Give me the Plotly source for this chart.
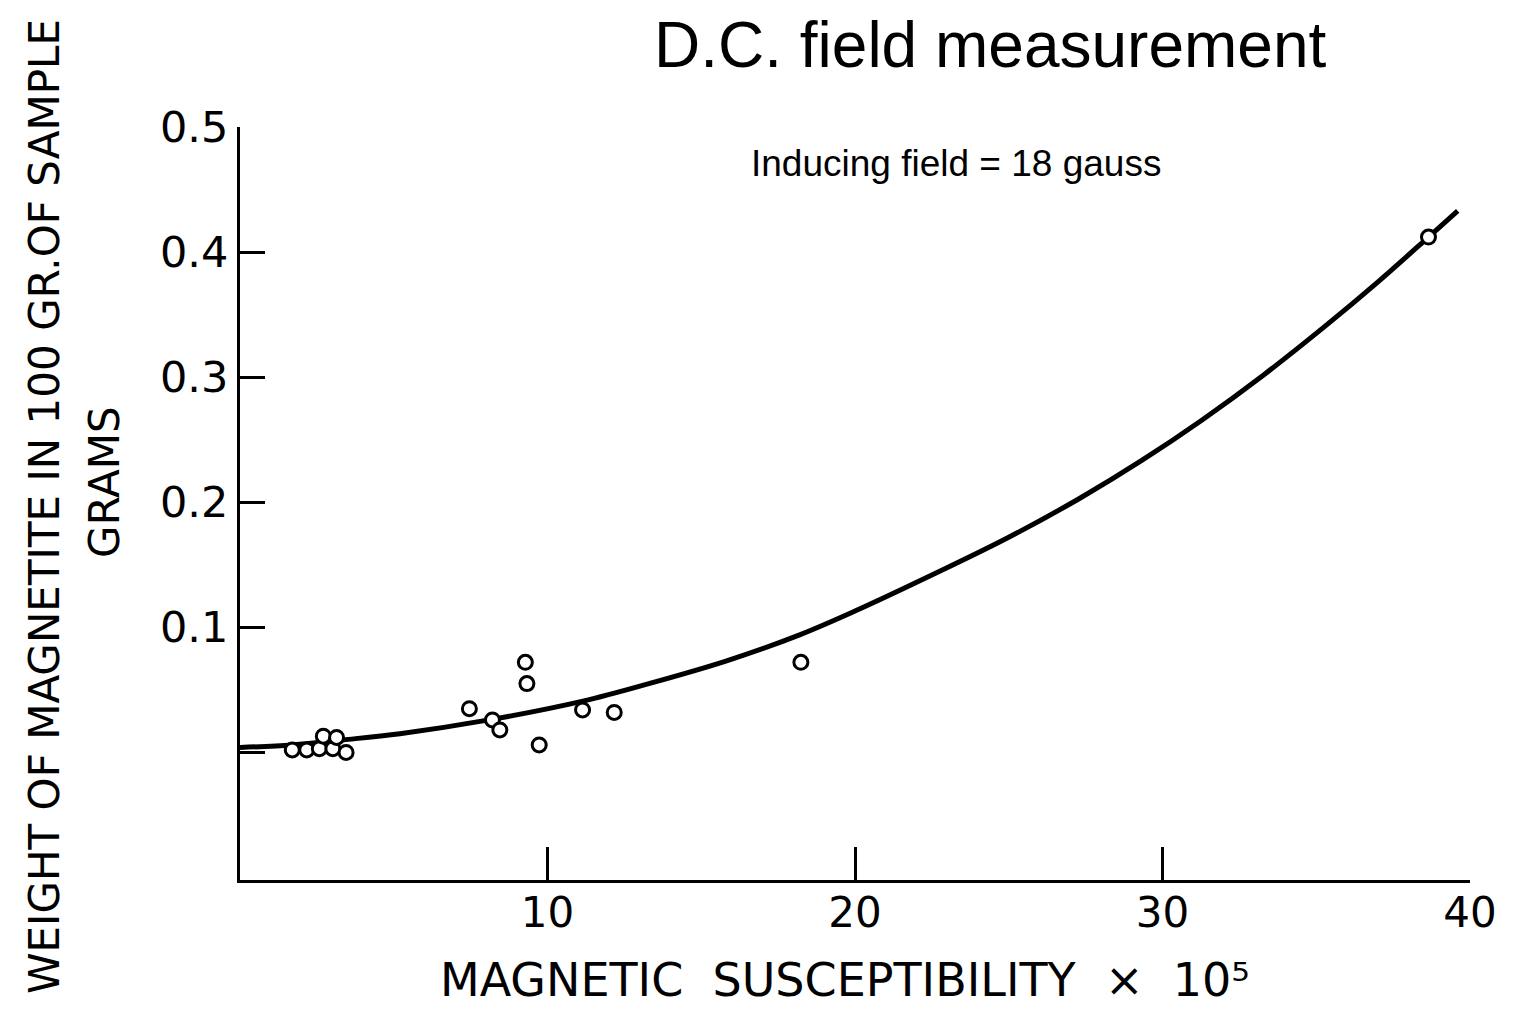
import plotly.graph_objects as go

# Measured samples (magnetic susceptibility x 10^5, grams of magnetite per 100 g)
sample_x = [1.70, 2.17, 2.58, 2.71, 3.02, 3.14, 3.45, 7.46, 8.21, 8.45, 9.28, 9.33, 9.73, 11.14, 12.17, 18.24, 38.65]
sample_y = [0.002, 0.002, 0.003, 0.013, 0.003, 0.012, 0.000, 0.035, 0.026, 0.018, 0.072, 0.055, 0.006, 0.034, 0.032, 0.072, 0.412]

# Fitted curve
curve_x = [0, 1.7, 3.35, 5.2, 8.1, 11.15, 13.3, 15.8, 18.2, 20.0, 22.6, 25.0, 27.3, 29.3, 31.3, 33.3, 35.25, 37.0, 38.65, 39.6]
curve_y = [0.004, 0.006, 0.010, 0.015, 0.026, 0.041, 0.055, 0.073, 0.094, 0.113, 0.143, 0.172, 0.203, 0.233, 0.266, 0.302, 0.340, 0.376, 0.412, 0.433]

x_ticks = [10, 20, 30, 40]
x_tick_text = ["10", "20", "30", "40"]
y_ticks = [0, 0.1, 0.2, 0.3, 0.4, 0.5]
y_tick_text = ["", "0.1", "0.2", "0.3", "0.4", "0.5"]

title_text = "D.C. field measurement"
subtitle_text = "Inducing field = 18 gauss"
x_title = "MAGNETIC  SUSCEPTIBILITY  ×  10⁵"
y_title = "WEIGHT OF MAGNETITE IN 100 GR.OF SAMPLE"
y_title2 = "GRAMS"

scan_font = "DejaVu Sans"

fig = go.Figure()
fig.add_trace(go.Scatter(
    x=curve_x, y=curve_y, mode="lines",
    line=dict(color="black", width=5, shape="spline", smoothing=1.0),
    hoverinfo="skip", showlegend=False,
))
fig.add_trace(go.Scatter(
    x=sample_x, y=sample_y, mode="markers",
    marker=dict(symbol="circle", size=14, color="white", line=dict(color="black", width=3)),
    showlegend=False,
))

fig.update_layout(
    width=1513, height=1012, autosize=False,
    paper_bgcolor="white", plot_bgcolor="white",
    margin=dict(l=240, r=43, t=127, b=132),
    showlegend=False,
    xaxis=dict(
        range=[0, 40], tickvals=x_ticks, ticktext=x_tick_text,
        ticks="inside", ticklen=33, tickwidth=3, tickcolor="black",
        showline=True, linecolor="black", linewidth=3,
        showgrid=False, zeroline=False,
        tickfont=dict(family=scan_font, size=42, color="black"),
        ticklabelstandoff=-6,
    ),
    yaxis=dict(
        range=[-0.102, 0.5], tickvals=y_ticks, ticktext=y_tick_text,
        ticks="inside", ticklen=25, tickwidth=3, tickcolor="black",
        showline=True, linecolor="black", linewidth=3,
        showgrid=False, zeroline=False,
        tickfont=dict(family=scan_font, size=43, color="black"),
    ),
    annotations=[
        dict(text=title_text, x=0.6098, y=1.109, xref="paper", yref="paper",
             showarrow=False, font=dict(family="Liberation Sans", size=64, color="black"),
             xanchor="center", yanchor="middle"),
        dict(text=subtitle_text, x=0.582, y=0.952, xref="paper", yref="paper",
             showarrow=False, font=dict(family="Liberation Sans", size=37, color="black"),
             xanchor="center", yanchor="middle"),
        dict(text=x_title, x=0.492, y=-0.133, xref="paper", yref="paper",
             showarrow=False, font=dict(family=scan_font, size=46, color="black"),
             xanchor="center", yanchor="middle"),
        dict(text=y_title, x=-0.1585, y=0.4954, xref="paper", yref="paper", textangle=-90,
             showarrow=False, font=dict(family=scan_font, size=42, color="black"),
             xanchor="center", yanchor="middle"),
        dict(text=y_title2, x=-0.1098, y=0.5286, xref="paper", yref="paper", textangle=-90,
             showarrow=False, font=dict(family=scan_font, size=42, color="black"),
             xanchor="center", yanchor="middle"),
    ],
)

fig.write_html("out.html")
